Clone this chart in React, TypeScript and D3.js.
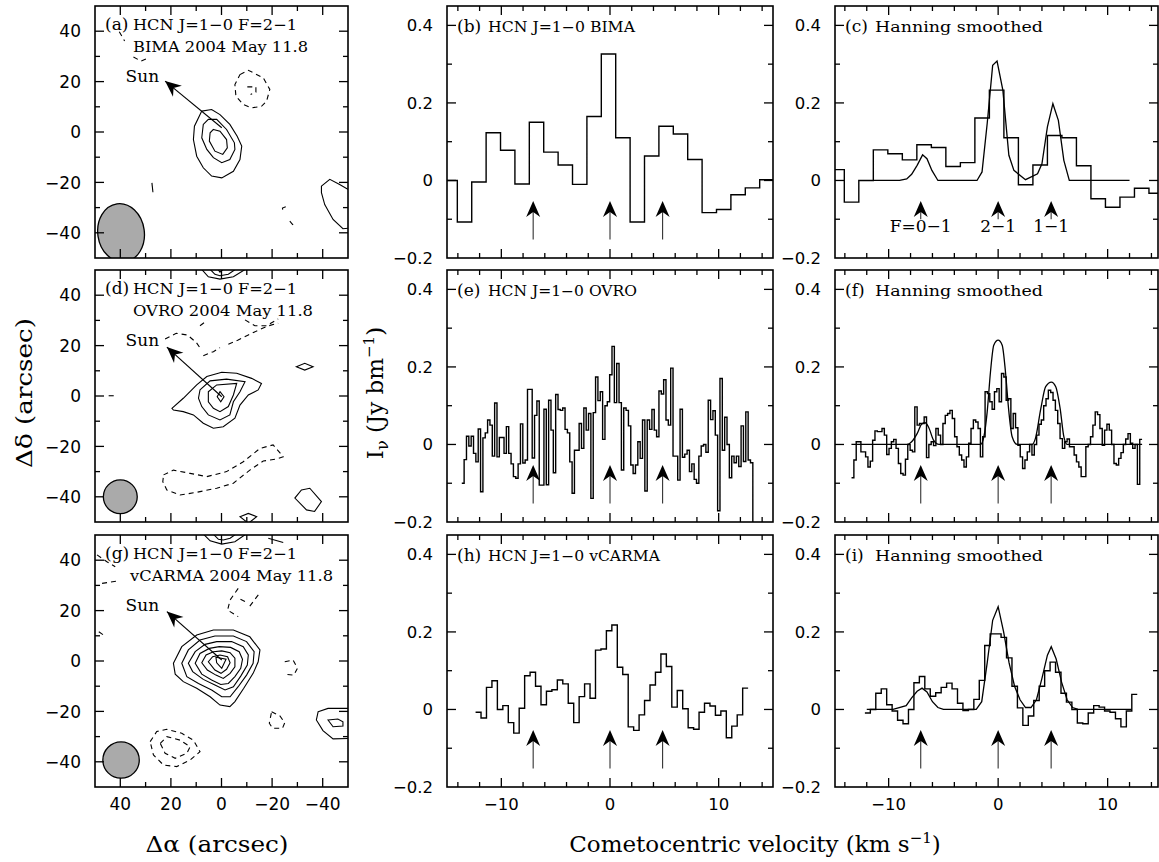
import { useEffect, useRef } from "react";
import * as d3 from "d3";

type Pt = [number, number];
type Contour = { pts: Pt[]; closed?: boolean; dashed?: boolean };

// ---------- layout ----------
const W = 1159, H = 862;
const rowTop = [6, 270, 535];
const rowH = 252;
const mapRange: Pt = [95, 348];
const midRange: Pt = [447, 773];
const rightRange: Pt = [835, 1158];
const serif = "'DejaVu Serif', serif";
const sans = "'DejaVu Sans', sans-serif";

// ---------- maps ----------
const mapLetters = ["(a)", "(d)", "(g)"];
const mapLine1 = "HCN J=1−0 F=2−1";
const mapLine2 = ["BIMA 2004 May 11.8", "OVRO 2004 May 11.8", "vCARMA 2004 May 11.8"];
const mapLine2Len = [175, 180, 203];
const mapTicks = [-40, -30, -20, -10, 0, 10, 20, 30, 40];
const mapLabels = [40, 20, 0, -20, -40];

const sunFrom: Pt[] = [[-0.1, 1.7], [-0.1, -0.3], [-0.1, 0.4]];
const sunTo: Pt[] = [[22.3, 20.2], [21.6, 19.4], [21.6, 19.6]];
const sunLabelAt: Pt = [31.3, 19.8];

const beamCentre: Pt[] = [[39.7, -40], [40, -40], [39.7, -39.3]];
const beamAxes: Pt[] = [[9.2, 11.6], [6.7, 6.7], [7.2, 7.2]];
const beamTilt = [-8, 0, 0];

const contoursA: Contour[] = [
  { closed: true, pts: [[7.8, 8.3], [3.9, 8.9], [0.6, 6.9], [-3.3, 3.0], [-6.2, -1.7], [-8.0, -5.6], [-7.3, -10.9], [-4.7, -15.6], [-0.1, -18.2], [3.9, -17.5], [7.2, -14.2], [9.8, -9.6], [11.1, -3.0], [10.7, 2.3]] },
  { closed: true, pts: [[5.2, 5.0], [1.9, 5.0], [-2.0, 1.0], [-5.1, -4.3], [-5.3, -6.9], [-3.3, -10.9], [-0.1, -12.2], [3.2, -10.2], [5.8, -6.9], [7.8, -2.3], [7.2, 3.0]] },
  { closed: true, pts: [[3.2, 1.0], [0.6, 0.3], [-2.0, -3.0], [-2.3, -6.3], [-0.5, -8.9], [2.6, -7.6], [4.8, -3.6], [4.5, -0.3]] },
  { closed: true, pts: [[-39.5, -21.5], [-42.8, -18.8], [-46.7, -20.8], [-52, -24], [-52, -38], [-48, -38.4], [-44.1, -34.7], [-40.8, -28.8], [-39.5, -24.1]] },
  { pts: [[27.5, -20.2], [27.1, -23.9]] },
  { dashed: true, closed: true, pts: [[-7.3, 22.8], [-10.6, 24.5], [-16.5, 21.5], [-19.1, 16.9], [-17.8, 12.2], [-15.8, 10.2], [-11.9, 9.6], [-8.6, 10.9], [-5.7, 14.2], [-5.3, 18.8]] },
  { dashed: true, pts: [[-10.2, 17.9], [-13.6, 17.9], [-13.6, 15.8], [-11.5, 14.9]] },
  { dashed: true, pts: [[40.4, 39.8], [38.3, 36.1]] },
  { dashed: true, pts: [[34.8, 29.8], [31.8, 28.1], [28.8, 29.4]] },
  { dashed: true, pts: [[-25.4, -29.7], [-24.1, -30.2], [-24.4, -32.1]] },
  { dashed: true, pts: [[-27, -35.4], [-28.1, -36.7], [-29.4, -35.8]] },
];

const contoursD: Contour[] = [
  { closed: true, pts: [[19.6, -4.9], [15.1, -0.9], [9.8, 4.4], [5.8, 7.7], [-0.1, 9.4], [-6.0, 9.0], [-11.9, 7.0], [-15.8, 5.0], [-14.5, 2.4], [-10.6, 0.4], [-7.3, -3.6], [-5.3, -8.8], [-0.7, -12.2], [3.2, -12.8], [7.2, -10.8], [11.1, -7.5], [15.1, -6.2], [19.0, -5.6]] },
  { closed: true, pts: [[8.5, 2.4], [4.5, 6.0], [-2.0, 6.7], [-9.3, 5.7], [-7.3, 1.7], [-4.7, -2.3], [-3.3, -7.5], [0.6, -9.5], [5.2, -7.5], [7.8, -4.2], [9.1, -0.9]] },
  { closed: true, pts: [[5.2, 1.7], [1.9, 4.4], [-6.0, 5.0], [-4.7, 0.4], [-2.7, -4.2], [0.6, -6.2], [3.2, -4.9], [5.2, -2.3]] },
  { closed: true, pts: [[0.6, 1.7], [-1.0, -0.3], [0.3, -2.3], [1.7, -0.3]] },
  { closed: true, pts: [[-29.6, 11.6], [-32.9, 13.0], [-36.2, 11.6], [-32.9, 10.3]] },
  { closed: true, pts: [[-31.6, -37.3], [-34.9, -36.6], [-39.5, -41.9], [-36.8, -45.8], [-33.6, -45.2], [-29.0, -40.5]] },
  { closed: true, pts: [[-7.3, -47.9], [-10.6, -46.6], [-13.9, -47.9], [-10.6, -50.5]] },
  { pts: [[8.5, 51], [5.2, 47.3], [0.6, 46.4], [-4.7, 47.3], [-10.6, 51]] },
  { pts: [[5.2, 51], [2.6, 48.3], [0.6, 47.7], [-2.7, 48.3], [-6.6, 51]] },
  { pts: [[1.9, 51], [0.6, 49.1], [-1.4, 51]] },
  { pts: [[44.6, 0.1], [42.6, 0.1]] },
  { dashed: true, pts: [[22.3, 22.6], [17.9, 24.9], [13.5, 24.2], [10.0, 21.3], [8.1, 18.5]] },
  { dashed: true, pts: [[8.5, 27.9], [6.9, 29.1]] },
  { dashed: true, pts: [[7.2, 16.0], [3.2, 17.6], [0.6, 19.2]] },
  { dashed: true, pts: [[-2.7, 20.5], [-6.6, 22.2], [-10.6, 24.2], [-14.5, 26.1], [-18.4, 27.8], [-22.4, 28.9]] },
  { dashed: true, pts: [[-9.3, 30.2], [-13.2, 27.9], [-17.8, 27.9], [-22.4, 30.6]] },
  { dashed: true, closed: true, pts: [[22.9, -31.3], [19.0, -29.4], [12.4, -30.7], [5.8, -32.0], [-2.0, -30.0], [-8.6, -26.1], [-15.2, -20.8], [-20.4, -19.4], [-24.4, -24.1], [-21.8, -25.0], [-16.5, -25.8], [-11.2, -29.4], [-4.7, -34.6], [1.9, -36.6], [9.8, -38.2], [16.4, -39.3], [21.6, -37.3], [23.2, -34.0]] },
];

const contoursG: Contour[] = [
  { closed: true, pts: [[19.0, -0.9], [15.7, 5.7], [9.8, 10.3], [3.2, 12.3], [-4.7, 12.3], [-11.2, 9.6], [-15.2, 4.4], [-14.5, -0.3], [-12.5, -4.9], [-8.8, -10.8], [-5.3, -16.1], [-3.3, -18.1], [0.6, -17.5], [4.5, -14.2], [9.8, -10.8], [15.1, -8.2], [18.3, -5.2]] },
  { closed: true, pts: [[15.7, -0.9], [13.1, 4.4], [8.5, 8.3], [2.6, 9.9], [-4.7, 9.9], [-9.9, 7.7], [-12.9, 3.7], [-12.5, -0.9], [-9.9, -5.6], [-6.6, -10.2], [-3.4, -14.2], [-0.1, -14.2], [3.9, -11.5], [9.1, -8.9], [13.7, -6.2]] },
  { closed: true, pts: [[13.1, -0.9], [10.4, 3.7], [6.5, 6.6], [1.9, 7.7], [-4.0, 7.7], [-8.6, 5.7], [-10.6, 2.4], [-10.2, -1.6], [-7.6, -6.0], [-4.7, -10.2], [-1.4, -11.5], [2.6, -9.5], [7.2, -7.3], [11.4, -4.2]] },
  { closed: true, pts: [[10.4, -0.9], [8.5, 3.0], [4.8, 5.0], [0.9, 5.7], [-3.6, 5.4], [-7.0, 3.7], [-8.3, 0.7], [-7.6, -2.9], [-5.3, -6.2], [-2.7, -8.9], [0.3, -9.3], [3.9, -7.5], [7.8, -5.2]] },
  { closed: true, pts: [[7.8, -0.7], [6.1, 2.4], [3.2, 3.7], [-0.1, 4.0], [-3.4, 3.3], [-5.3, 1.1], [-5.3, -2.3], [-3.4, -4.9], [-0.7, -6.9], [2.2, -5.6], [5.6, -3.6]] },
  { closed: true, pts: [[5.2, -0.3], [3.5, 1.7], [0.6, 2.4], [-2.4, 1.7], [-3.4, -0.7], [-2.0, -3.3], [0.2, -4.9], [2.6, -3.6]] },
  { closed: true, pts: [[2.2, 1.5], [-1.8, 0.7], [-0.1, -2.9], [1.9, -0.7]] },
  { closed: true, pts: [[-38.2, -20.1], [-42.1, -18.8], [-52, -18.8], [-52, -30.7], [-44.1, -30.9], [-40.1, -27.6], [-37.5, -23.4]] },
  { closed: true, pts: [[-42.1, -23.4], [-46.0, -23.0], [-48.0, -24.1], [-48.0, -25.8], [-44.1, -26.1]] },
  { pts: [[7.8, 51], [4.5, 47.7], [-0.1, 46.4], [-5.3, 47.3], [-10.6, 51]] },
  { pts: [[3.9, 51], [1.2, 48.3], [-0.7, 48.0], [-3.4, 48.7], [-6.6, 51]] },
  { pts: [[-18.5, 48.7], [-24.4, 47.0]] },
  { dashed: true, closed: true, pts: [[-19.8, -20.1], [-23.1, -21.8], [-25.0, -24.5], [-24.1, -26.7], [-20.2, -26.7], [-18.9, -24.7]] },
  { dashed: true, pts: [[-25.0, -0.3], [-28.3, 0.4], [-30.0, -2.9], [-28.6, -5.6], [-25.7, -5.3]] },
  { dashed: true, pts: [[-6.6, 28.8], [-3.4, 24.2], [-2.4, 20.2], [-6.6, 17.6]] },
  { dashed: true, pts: [[-11.2, 21.8], [-15.2, 27.1]] },
  { dashed: true, pts: [[-7.5, 24.5], [-9.3, 23.6], [-8.6, 22.2]] },
  { dashed: true, closed: true, pts: [[28.2, -32.0], [25.6, -28.0], [21.6, -27.1], [15.7, -28.7], [11.1, -31.4], [8.5, -36.0], [12.4, -39.3], [17.7, -41.9], [22.9, -41.3], [26.9, -37.3]] },
  { dashed: true, closed: true, pts: [[24.2, -32.7], [21.6, -30.0], [16.4, -31.4], [12.4, -34.0], [13.7, -36.6], [18.3, -38.6], [22.3, -36.6]] },
  { dashed: true, pts: [[49.2, 42.1], [45.3, 39.4], [42.0, 37.4]] },
  { dashed: true, pts: [[47.2, 30.8], [41.3, 31.7]] },
  { dashed: true, pts: [[48.5, 11.6], [46.6, 10.3]] },
];
const mapContours = [contoursA, contoursD, contoursG];

// ---------- spectra ----------
const hfsVel = [-7.07, 0, 4.84];
const hfsLabel = ["F=0−1", "2−1", "1−1"];
const specYLabels = [0.4, 0.2, 0, -0.2];
const specXLabels = [-10, 0, 10];

// BIMA (1.325 km/s channels)
const bimaStart = -15.375, bimaWidth = 1.325;
const bimaRaw = [0.0, -0.107, -0.004, 0.123, 0.078, -0.009, 0.150, 0.073, 0.040, -0.010, 0.165, 0.326, 0.110, -0.107, 0.063, 0.140, 0.120, 0.054, -0.083, -0.075, -0.037, -0.019, 0.002];
const bimaHan = [0.028, -0.056, 0.0, 0.079, 0.069, 0.053, 0.092, 0.085, 0.036, 0.046, 0.161, 0.233, 0.110, -0.011, 0.040, 0.116, 0.110, 0.038, -0.047, -0.069, -0.043, -0.020, -0.033];
const bimaModel: Pt[] = [[-11.4, 0], [-9.0, 0], [-8.35, 0.004], [-7.9, 0.016], [-7.4, 0.039], [-6.9, 0.066], [-6.5, 0.056], [-6.05, 0.026], [-5.5, 0], [-1.93, 0], [-1.47, 0.022], [-1.0, 0.147], [-0.5, 0.297], [-0.1, 0.308], [0.43, 0.233], [0.98, 0.065], [1.44, 0.026], [2.5, 0.002], [3.6, 0.017], [4.0, 0.043], [4.5, 0.138], [5.0, 0.198], [5.5, 0.155], [6.0, 0.052], [6.5, 0], [12.0, 0]];

// OVRO (narrow channels)
const ovroStart = -13.64, ovroWidth = 0.216;
const ovroRaw = [
  -0.10, -0.039, 0.021, -0.004, 0.021, -0.023, -0.045, 0.04, -0.122, 0.017,
  0.03, 0.063, 0.05, -0.03, 0.107, -0.032, 0.018, 0.018, -0.023, 0.046,
  -0.023, -0.05, -0.083, -0.087, -0.05, 0.053, -0.048, -0.04, 0.142, 0.142,
  -0.035, 0.075, 0.112, -0.105, -0.105, 0.091, -0.104, 0.114, 0.037, -0.073,
  0.129, 0.09,
  0.088, 0.094, 0.039, 0.03, -0.045, -0.126, -0.015, -0.015, 0.054, -0.01,
  0.094, 0.037, 0.08, -0.139, 0.082, 0.174, 0.113, 0.136, 0.013, 0.1,
  0.11, 0.18, 0.253, 0.108, 0.209, 0.108, -0.066, 0.094, 0.088, 0.048,
  -0.053, -0.075, -0.053, 0.007, -0.036, 0.063, -0.12, 0.063, 0.039, 0.09,
  0.037, 0.02, 0.138, 0.13, 0.167, 0.063,
  0.05, 0.197, -0.03, -0.03, -0.092, 0.091, -0.033, -0.025, -0.015, -0.07,
  -0.05, -0.09, -0.1, -0.03, -0.004, 0.0, -0.02, 0.114, 0.064, 0.087,
  0.024, -0.171, 0.17, -0.015, 0.07, 0.0, -0.086, -0.03, -0.047, -0.03,
  -0.057, 0.048, -0.044, 0.084, -0.04, -0.047, -0.3,
];
const ovroHanStart = -13.39, ovroHanWidth = 0.214;
const ovroHan = [
  -0.086, -0.04, 0.007, 0.007, -0.019, -0.019, -0.032, -0.058, -0.043, 0.011,
  0.035, 0.033, 0.033, 0.041, 0.024, -0.026, -0.01, 0.007, 0.013, -0.01,
  -0.049, -0.075, -0.079, -0.038, 0.0, -0.015, -0.019, 0.097, 0.05, 0.054,
  0.054, 0.071, -0.034, 0.0, 0.007, -0.003, 0.041, 0.024, 0.0, 0.054,
  0.075, 0.08, 0.088, 0.067, 0.02, -0.006, -0.027, -0.04, -0.058, -0.032,
  0.003, 0.041, 0.063, 0.058, 0.041, -0.032, 0.02, 0.136, 0.131, 0.11,
  0.091, 0.136, 0.144, 0.11, 0.183, 0.174, 0.114, 0.118, 0.041, 0.08,
  0.043, -0.002, -0.032, -0.062, -0.04, -0.019, 0.0, -0.027, 0.0, 0.024,
  0.052, 0.063, 0.1, 0.118, 0.14, 0.134, 0.114, 0.088, 0.054, 0.015,
  -0.01, 0.007, 0.014, -0.006, -0.006, -0.027, -0.045, -0.058, -0.083, -0.083,
  -0.006, 0.0, 0.02, 0.05, 0.084, 0.077, 0.041, -0.002, 0.037, 0.052,
  0.037, 0.0, -0.049, -0.053, -0.036, -0.021, 0.0, 0.014, 0.028, 0.003,
  -0.01, 0.0, -0.103, 0.013,
];
const ovroModel: Pt[] = [[-13.4, 0], [-8.3, 0], [-7.9, 0.007], [-7.4, 0.028], [-6.97, 0.053], [-6.67, 0.056], [-6.36, 0.045], [-5.9, 0.011], [-5.4, 0], [-1.6, 0], [-1.3, 0.02], [-1.0, 0.084], [-0.7, 0.187], [-0.4, 0.256], [0, 0.269], [0.37, 0.256], [0.67, 0.187], [0.98, 0.084], [1.28, 0.02], [1.74, 0], [3.1, 0], [3.4, 0.015], [3.9, 0.093], [4.34, 0.149], [4.86, 0.161], [5.26, 0.149], [5.66, 0.093], [6.0, 0.02], [6.3, 0], [13.15, 0]];

// vCARMA (0.5 km/s channels)
const carmaStart = -12.37, carmaWidth = 0.5016;
const carmaRaw = [-0.007, -0.022, 0.057, 0.074, 0.0, 0.01, -0.034, -0.061, 0.003, 0.087, 0.096, 0.06, 0.012, 0.047, 0.051, 0.076, 0.066, 0.016, -0.034, 0.033, 0.066, 0.029, 0.153, 0.156, 0.203, 0.218, 0.109, 0.09, -0.045, -0.054, -0.014, 0.023, 0.063, 0.096, 0.143, 0.111, 0.006, 0.049, 0.002, -0.047, -0.051, -0.007, 0.016, 0.009, -0.015, -0.004, -0.073, -0.043, -0.014, 0.055];
const carmaHanStart = -12.17, carmaHanWidth = 0.4975;
const carmaHan = [-0.009, 0.0, 0.042, 0.053, 0.012, -0.004, -0.028, -0.037, 0.0, 0.069, 0.085, 0.053, 0.034, 0.043, 0.057, 0.068, 0.053, 0.016, -0.003, 0.0, 0.026, 0.075, 0.165, 0.195, 0.195, 0.186, 0.133, 0.06, 0.004, -0.041, -0.017, 0.023, 0.06, 0.1, 0.122, 0.096, 0.042, 0.019, 0.0, -0.035, -0.037, -0.009, 0.01, 0.006, -0.004, -0.007, -0.024, -0.045, -0.004, 0.039];
const carmaModel: Pt[] = [[-12.0, 0], [-9.6, 0], [-8.4, 0.01], [-7.9, 0.03], [-7.4, 0.047], [-6.95, 0.055], [-6.5, 0.045], [-6.0, 0.02], [-5.5, 0.005], [-5.0, 0], [-2.0, 0], [-1.5, 0.02], [-1.0, 0.12], [-0.5, 0.23], [0, 0.265], [0.5, 0.2], [1.0, 0.12], [1.5, 0.06], [2.0, 0.025], [2.5, 0.005], [3.0, 0.005], [3.5, 0.025], [4.0, 0.08], [4.5, 0.14], [4.85, 0.162], [5.3, 0.13], [5.8, 0.07], [6.3, 0.025], [6.8, 0.005], [7.3, 0], [12.2, 0]];

type Spec = {
  row: number; col: 1 | 2; letter: string; label: string; labelLen: number;
  start: number; width: number; values: number[]; model?: Pt[]; smooth?: boolean; hfsText?: boolean;
};
const spectra: Spec[] = [
  { row: 0, col: 1, letter: "(b)", label: "HCN J=1−0 BIMA", labelLen: 147, start: bimaStart, width: bimaWidth, values: bimaRaw },
  { row: 0, col: 2, letter: "(c)", label: "Hanning smoothed", labelLen: 168, start: bimaStart, width: bimaWidth, values: bimaHan, model: bimaModel, hfsText: true },
  { row: 1, col: 1, letter: "(e)", label: "HCN J=1−0 OVRO", labelLen: 149, start: ovroStart, width: ovroWidth, values: ovroRaw },
  { row: 1, col: 2, letter: "(f)", label: "Hanning smoothed", labelLen: 168, start: ovroHanStart, width: ovroHanWidth, values: ovroHan, model: ovroModel, smooth: true },
  { row: 2, col: 1, letter: "(h)", label: "HCN J=1−0 vCARMA", labelLen: 172, start: carmaStart, width: carmaWidth, values: carmaRaw },
  { row: 2, col: 2, letter: "(i)", label: "Hanning smoothed", labelLen: 168, start: carmaHanStart, width: carmaHanWidth, values: carmaHan, model: carmaModel },
];

const fmt = (v: number) => (v < 0 ? "−" : "") + Math.abs(v);

function arrowHead(tip: Pt, from: Pt, len: number, half: number, notch: number) {
  const dx = tip[0] - from[0], dy = tip[1] - from[1];
  const d = Math.hypot(dx, dy);
  const ux = dx / d, uy = dy / d, nx = -uy, ny = ux;
  const bx = tip[0] - ux * len, by = tip[1] - uy * len;
  const mx = tip[0] - ux * (len - notch), my = tip[1] - uy * (len - notch);
  return `M${tip[0]},${tip[1]}L${bx + nx * half},${by + ny * half}L${mx},${my}L${bx - nx * half},${by - ny * half}Z`;
}

function frame(g: any, x: any, y: any, xt: number[], xMajor: (v: number) => boolean, yt: number[], yMajor: (v: number) => boolean) {
  const [xa, xb] = x.range();
  const [yb, ya] = y.range();
  g.append("rect")
    .attr("x", Math.min(xa, xb)).attr("y", ya)
    .attr("width", Math.abs(xb - xa)).attr("height", yb - ya)
    .attr("fill", "none").attr("stroke", "#000").attr("stroke-width", 1.6);
  xt.forEach(v => {
    const L = xMajor(v) ? 9 : 5, px = x(v);
    g.append("line").attr("x1", px).attr("x2", px).attr("y1", yb).attr("y2", yb - L);
    g.append("line").attr("x1", px).attr("x2", px).attr("y1", ya).attr("y2", ya + L);
  });
  yt.forEach(v => {
    const L = yMajor(v) ? 9 : 5, py = y(v);
    g.append("line").attr("y1", py).attr("y2", py).attr("x1", xa).attr("x2", xa + L);
    g.append("line").attr("y1", py).attr("y2", py).attr("x1", xb).attr("x2", xb - L);
  });
  g.selectAll("line").attr("stroke", "#000").attr("stroke-width", 1.3);
}

export default function App() {
  const svgRef = useRef<SVGSVGElement>(null);

  useEffect(() => {
    const svg = d3.select(svgRef.current);
    svg.selectAll("*").remove();
    const defs = svg.append("defs");

    // ---------- contour maps ----------
    rowTop.forEach((top, r) => {
      const x = d3.scaleLinear().domain([50, -50]).range(mapRange);
      const y = d3.scaleLinear().domain([-50, 50]).range([top + rowH, top]);
      const id = `mclip${r}`;
      defs.append("clipPath").attr("id", id).append("rect")
        .attr("x", mapRange[0]).attr("y", top).attr("width", mapRange[1] - mapRange[0]).attr("height", rowH);
      const g = svg.append("g");
      const inner = g.append("g").attr("clip-path", `url(#${id})`);

      // beam
      const bc = beamCentre[r], ba = beamAxes[r];
      inner.append("ellipse")
        .attr("cx", x(bc[0])).attr("cy", y(bc[1]))
        .attr("rx", Math.abs(x(ba[0]) - x(0))).attr("ry", Math.abs(y(ba[1]) - y(0)))
        .attr("transform", `rotate(${beamTilt[r]},${x(bc[0])},${y(bc[1])})`)
        .attr("fill", "#aaaaaa").attr("stroke", "#000").attr("stroke-width", 1.3);

      const line = d3.line<Pt>().x(d => x(d[0])).y(d => y(d[1]));
      mapContours[r].forEach(c => {
        inner.append("path")
          .attr("d", line.curve(c.closed ? d3.curveLinearClosed : d3.curveLinear)(c.pts))
          .attr("fill", "none").attr("stroke", "#000").attr("stroke-width", 1.1)
          .attr("stroke-dasharray", c.dashed ? "5,4" : null);
      });

      // sun arrow
      const p0: Pt = [x(sunFrom[r][0]), y(sunFrom[r][1])];
      const p1: Pt = [x(sunTo[r][0]), y(sunTo[r][1])];
      g.append("line").attr("x1", p0[0]).attr("y1", p0[1]).attr("x2", p1[0]).attr("y2", p1[1])
        .attr("stroke", "#000").attr("stroke-width", 1.1);
      g.append("path").attr("d", arrowHead(p1, p0, 16, 7, 5)).attr("fill", "#000");
      g.append("text").attr("x", x(sunLabelAt[0])).attr("y", y(sunLabelAt[1]))
        .attr("text-anchor", "middle").attr("font-family", serif).attr("font-size", 17).text("Sun");

      // titles
      g.append("text").attr("x", mapRange[0] + 10).attr("y", top + 24)
        .attr("font-family", serif).attr("font-size", 17).text(mapLetters[r]);
      g.append("text").attr("x", 133).attr("y", top + 24)
        .attr("font-family", serif).attr("font-size", 15)
        .attr("textLength", 164).attr("lengthAdjust", "spacingAndGlyphs").text(mapLine1);
      g.append("text").attr("x", r === 2 ? 130 : 133).attr("y", top + 46)
        .attr("font-family", serif).attr("font-size", 15)
        .attr("textLength", mapLine2Len[r]).attr("lengthAdjust", "spacingAndGlyphs").text(mapLine2[r]);

      frame(g.append("g"), x, y, mapTicks, v => v % 20 === 0, mapTicks, v => v % 20 === 0);

      mapLabels.forEach(v => {
        g.append("text").attr("x", 81).attr("y", y(v)).attr("dy", "0.36em")
          .attr("text-anchor", "end").attr("font-family", sans).attr("font-size", 17).text(fmt(v));
        if (r === 2) {
          g.append("text").attr("x", x(v)).attr("y", 810)
            .attr("text-anchor", "middle").attr("font-family", sans).attr("font-size", 17).text(fmt(v));
        }
      });
    });

    // ---------- spectra ----------
    const vTicks = d3.range(-14, 15, 2);
    const iTicks = [-0.1, 0, 0.1, 0.2, 0.3, 0.4];
    spectra.forEach((s, si) => {
      const top = rowTop[s.row];
      const xr = s.col === 1 ? midRange : rightRange;
      const x = d3.scaleLinear().domain(s.col === 1 ? [-15, 15] : [-14.9, 14.6]).range(xr);
      const y = d3.scaleLinear().domain([-0.2, 0.45]).range([top + rowH, top]);
      const id = `sclip${si}`;
      defs.append("clipPath").attr("id", id).append("rect")
        .attr("x", xr[0]).attr("y", top).attr("width", xr[1] - xr[0]).attr("height", rowH);
      const g = svg.append("g");
      const inner = g.append("g").attr("clip-path", `url(#${id})`);

      const pts: Pt[] = s.values.map((v, i) => [s.start + i * s.width, v]);
      pts.push([s.start + s.values.length * s.width, s.values[s.values.length - 1]]);
      const step = d3.line<Pt>().x(d => x(d[0])).y(d => y(d[1])).curve(d3.curveStepAfter);
      inner.append("path").attr("d", step(pts))
        .attr("fill", "none").attr("stroke", "#000").attr("stroke-width", 1.4);

      if (s.model) {
        const ml = d3.line<Pt>().x(d => x(d[0])).y(d => y(d[1]))
          .curve(s.smooth ? d3.curveMonotoneX : d3.curveLinear);
        inner.append("path").attr("d", ml(s.model))
          .attr("fill", "none").attr("stroke", "#000").attr("stroke-width", 1.3);
      }

      // hyperfine arrows
      hfsVel.forEach((v, k) => {
        const px = x(v);
        const tip: Pt = [px, y(-0.053)];
        const bottom = y(s.hfsText ? -0.1 : -0.152);
        g.append("line").attr("x1", px).attr("x2", px).attr("y1", bottom).attr("y2", tip[1] + 11)
          .attr("stroke", "#333").attr("stroke-width", 1.1);
        g.append("path").attr("d", arrowHead(tip, [px, bottom], 16, 7, 5)).attr("fill", "#000");
        if (s.hfsText) {
          g.append("text").attr("x", px).attr("y", y(-0.133)).attr("text-anchor", "middle")
            .attr("font-family", serif).attr("font-size", 17).text(hfsLabel[k]);
        }
      });

      g.append("text").attr("x", xr[0] + 10).attr("y", top + 26)
        .attr("font-family", serif).attr("font-size", 17).text(s.letter);
      g.append("text").attr("x", xr[0] + (s.col === 1 ? 41 : 40)).attr("y", top + 26)
        .attr("font-family", serif).attr("font-size", s.col === 1 ? 14 : 15.5)
        .attr("textLength", s.labelLen).attr("lengthAdjust", "spacingAndGlyphs").text(s.label);

      frame(g.append("g"), x, y, vTicks, v => v % 10 === 0, iTicks,
        v => Math.abs(Math.round(v * 10) % 2) === 0);

      specYLabels.forEach(v => {
        g.append("text").attr("x", xr[0] - 14).attr("y", y(v)).attr("dy", "0.36em")
          .attr("text-anchor", "end").attr("font-family", sans).attr("font-size", 16.5).text(fmt(v));
      });
      if (s.row === 2) {
        specXLabels.forEach(v => {
          g.append("text").attr("x", x(v)).attr("y", 810).attr("text-anchor", "middle")
            .attr("font-family", sans).attr("font-size", 16.5).text(fmt(v));
        });
      }
    });

    // ---------- axis titles ----------
    svg.append("text").attr("transform", "translate(32,393) rotate(-90)")
      .attr("text-anchor", "middle").attr("font-family", serif).attr("font-size", 23)
      .attr("textLength", 150).attr("lengthAdjust", "spacingAndGlyphs").text("Δδ (arcsec)");

    const iv = svg.append("text").attr("transform", "translate(383,393) rotate(-90)")
      .attr("text-anchor", "middle").attr("font-family", serif).attr("font-size", 23);
    iv.append("tspan").text("I");
    iv.append("tspan").attr("dy", 5).attr("font-size", 16).text("ν");
    iv.append("tspan").attr("dy", -5).text(" (Jy bm");
    iv.append("tspan").attr("dy", -9).attr("font-size", 15).text("−1");
    iv.append("tspan").attr("dy", 9).text(")");

    svg.append("text").attr("x", 217).attr("y", 852).attr("text-anchor", "middle")
      .attr("font-family", serif).attr("font-size", 23)
      .attr("textLength", 143).attr("lengthAdjust", "spacingAndGlyphs").text("Δα (arcsec)");

    const cv = svg.append("text").attr("x", 755).attr("y", 852).attr("text-anchor", "middle")
      .attr("font-family", serif).attr("font-size", 23);
    cv.append("tspan").text("Cometocentric velocity (km s");
    cv.append("tspan").attr("dy", -9).attr("font-size", 15).text("−1");
    cv.append("tspan").attr("dy", 9).text(")");
  }, []);

  return (
    <svg ref={svgRef} width={W} height={H}
      style={{ position: "absolute", left: 0, top: 0, background: "#fff" }} />
  );
}
